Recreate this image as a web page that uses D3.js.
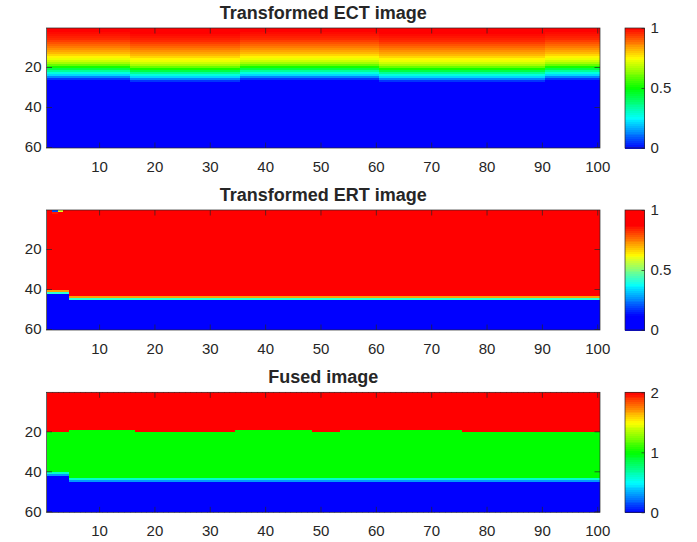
<!DOCTYPE html>
<html>
<head>
<meta charset="utf-8">
<script src="https://cdn.jsdelivr.net/npm/d3@7"></script>
<style>
  body { margin: 0; background: #fff; }
  text { font-family: "Liberation Sans", Arial, sans-serif; fill: #262626; }
</style>
</head>
<body>
<svg id="chart" width="697" height="542"></svg>
<script>
// ---- data ----
const nRows = 60, nCols = 100;
const xTicks = [10, 20, 30, 40, 50, 60, 70, 80, 90, 100];
const yTicks = [20, 40, 60];
const titles = ["Transformed ECT image", "Transformed ERT image", "Fused image"];
const cbTicks = [[0, 0.5, 1], [0, 0.5, 1], [0, 1, 2]];
const cbMax = [1, 1, 2];

// ECT: value down one column (rows 1..60)
const ectProfile = [1, 1, 0.99, 0.98, 0.97, 0.96, 0.94, 0.92, 0.9, 0.88,
  0.86, 0.84, 0.82, 0.79, 0.76, 0.73, 0.7, 0.66, 0.6, 0.52,
  0.43, 0.35, 0.28, 0.21, 0.13, 0.05, 0, 0, 0, 0,
  0, 0, 0, 0, 0, 0, 0, 0, 0, 0,
  0, 0, 0, 0, 0, 0, 0, 0, 0, 0,
  0, 0, 0, 0, 0, 0, 0, 0, 0, 0];
// ECT: how many rows the profile sits lower, per block of 5 columns
const ectShift = [0, 0, 0, 1, 1, 1, 1, 0, 0, 0, 0, 0, 1, 1, 1, 1, 1, 1, 0, 0];

// ERT: [fromCol, toCol, last red row]
const ertRuns = [[1, 4, 40], [5, 100, 43]];
const ertTail = [0.72, 0.42];
const ertSpots = [[1, 1, 0.9], [2, 1, 0.2], [2, 2, 0.85], [3, 1, 0.6]]; // [col, row, value]

// Fused: [fromCol, toCol, last row] of the red (2) and green (1) zones
const fusedRedRuns = [[1, 4, 20], [5, 16, 19], [17, 34, 20], [35, 48, 19], [49, 53, 20], [54, 75, 19], [76, 100, 20]];
const fusedGreenRuns = [[1, 4, 40], [5, 100, 43]];
const fusedTail = [0.6, 0.3];

// colormaps
const rainbowStops = [0, 0.25, 0.5, 0.75, 1];
const rainbowColors = ["#0000ff", "#00ffff", "#00ff00", "#ffff00", "#ff0000"];
const jetStops = [0, 0.125, 0.375, 0.625, 0.875, 1];
const jetColors = ["#0000ff", "#0000ff", "#00ffff", "#ffff00", "#ff0000", "#ff0000"];

// ---- build grids ----
function runValue(runs, c) {
  return runs.find(d => c >= d[0] && c <= d[1])[2];
}
const ectCells = [], ertCells = [], fusedCells = [];
for (let c = 1; c <= nCols; c++) {
  const s = ectShift[Math.floor((c - 1) / 5)];
  const ertLast = runValue(ertRuns, c);
  const redLast = runValue(fusedRedRuns, c);
  const greenLast = runValue(fusedGreenRuns, c);
  for (let r = 1; r <= nRows; r++) {
    ectCells.push({c: c, r: r, v: ectProfile[Math.max(0, r - s - 1)]});

    let e = 0;
    if (r <= ertLast) e = 1;
    else if (r - ertLast <= ertTail.length) e = ertTail[r - ertLast - 1];
    const spot = ertSpots.find(d => d[0] === c && d[1] === r);
    if (spot) e = spot[2];
    ertCells.push({c: c, r: r, v: e});

    let f = 0;
    if (r <= redLast) f = 2;
    else if (r <= greenLast) f = 1;
    else if (r - greenLast <= fusedTail.length) f = fusedTail[r - greenLast - 1];
    fusedCells.push({c: c, r: r, v: f});
  }
}

// ---- layout ----
const svg = d3.select("#chart");
const plotLeft = 46.5, plotRight = 600;
const panelTops = [28, 210, 392.3], panelH = 120;
const cbLeft = 625, cbWidth = 19.5;
const tickLen = 5.5;

const panels = [
  {cells: ectCells, stops: rainbowStops, colors: rainbowColors},
  {cells: ertCells, stops: jetStops, colors: jetColors},
  {cells: fusedCells, stops: rainbowStops, colors: rainbowColors}
];

const x = d3.scaleLinear().domain([0.5, nCols + 0.5]).range([plotLeft, plotRight]);
const cellW = x(1.5) - x(0.5);

panels.forEach(function(p, i) {
  const top = panelTops[i];
  const y = d3.scaleLinear().domain([0.5, nRows + 0.5]).range([top, top + panelH]);
  const cellH = y(1.5) - y(0.5);
  const color = d3.scaleLinear()
    .domain(p.stops.map(s => s * cbMax[i]))
    .range(p.colors)
    .clamp(true);

  const clipId = "clip" + i;
  svg.append("clipPath").attr("id", clipId)
    .append("rect")
      .attr("x", plotLeft).attr("y", top)
      .attr("width", plotRight - plotLeft).attr("height", panelH);

  svg.append("g")
      .attr("clip-path", "url(#" + clipId + ")")
      .attr("shape-rendering", "crispEdges")
    .selectAll("rect")
    .data(p.cells)
    .join("rect")
      .attr("x", d => x(d.c - 0.5))
      .attr("y", d => y(d.r - 0.5))
      .attr("width", cellW + 1)
      .attr("height", cellH + 1)
      .attr("fill", d => color(d.v));

  // axes with inward ticks on all four sides
  const axes = svg.append("g").attr("class", "axes");
  axes.append("g")
      .attr("transform", "translate(0," + (top + panelH) + ")")
      .call(d3.axisBottom(x).tickValues(xTicks).tickSizeInner(-tickLen).tickSizeOuter(0).tickPadding(13));
  axes.append("g")
      .attr("transform", "translate(0," + top + ")")
      .call(d3.axisTop(x).tickValues(xTicks).tickSizeInner(-tickLen).tickSizeOuter(0).tickFormat(""));
  axes.append("g")
      .attr("transform", "translate(" + plotLeft + ",0)")
      .call(d3.axisLeft(y).tickValues(yTicks).tickSizeInner(-tickLen).tickSizeOuter(0).tickPadding(5));
  axes.append("g")
      .attr("transform", "translate(" + plotRight + ",0)")
      .call(d3.axisRight(y).tickValues(yTicks).tickSizeInner(-tickLen).tickSizeOuter(0).tickFormat(""));
  axes.selectAll(".domain").remove();
  axes.selectAll("line").attr("stroke", "#262626").attr("stroke-width", 0.7);
  axes.selectAll("text").attr("font-size", 15).attr("fill", "#262626")
    .attr("font-family", "'Liberation Sans', Arial, sans-serif");
  axes.append("rect")
      .attr("x", plotLeft).attr("y", top)
      .attr("width", plotRight - plotLeft).attr("height", panelH)
      .attr("fill", "none").attr("stroke", "#262626").attr("stroke-width", 0.7);

  svg.append("text")
      .attr("x", (plotLeft + plotRight) / 2)
      .attr("y", top - 9)
      .attr("text-anchor", "middle")
      .attr("font-size", 18)
      .attr("font-weight", "bold")
      .attr("fill", "#000")
      .text(titles[i]);

  // colorbar
  const cb = d3.scaleLinear().domain([0, cbMax[i]]).range([top + panelH, top]);
  const steps = d3.range(64);
  svg.append("g").attr("shape-rendering", "crispEdges").selectAll("rect")
    .data(steps)
    .join("rect")
      .attr("x", cbLeft)
      .attr("y", k => cb((k + 1) / 64 * cbMax[i]))
      .attr("width", cbWidth)
      .attr("height", k => cb(k / 64 * cbMax[i]) - cb((k + 1) / 64 * cbMax[i]) + 0.5)
      .attr("fill", k => color((k + 0.5) / 64 * cbMax[i]));
  const cbAxis = svg.append("g")
      .attr("transform", "translate(" + (cbLeft + cbWidth) + ",0)")
      .call(d3.axisRight(cb).tickValues(cbTicks[i]).tickSizeInner(-3).tickSizeOuter(0).tickPadding(6)
        .tickFormat(d3.format("")));
  cbAxis.select(".domain").remove();
  cbAxis.selectAll("line").attr("stroke", "#262626").attr("stroke-width", 0.7);
  cbAxis.selectAll("text").attr("font-size", 15).attr("fill", "#262626")
    .attr("font-family", "'Liberation Sans', Arial, sans-serif");
  svg.append("rect")
      .attr("x", cbLeft).attr("y", top)
      .attr("width", cbWidth).attr("height", panelH)
      .attr("fill", "none").attr("stroke", "#262626").attr("stroke-width", 0.7);
});
</script>
</body>
</html>
